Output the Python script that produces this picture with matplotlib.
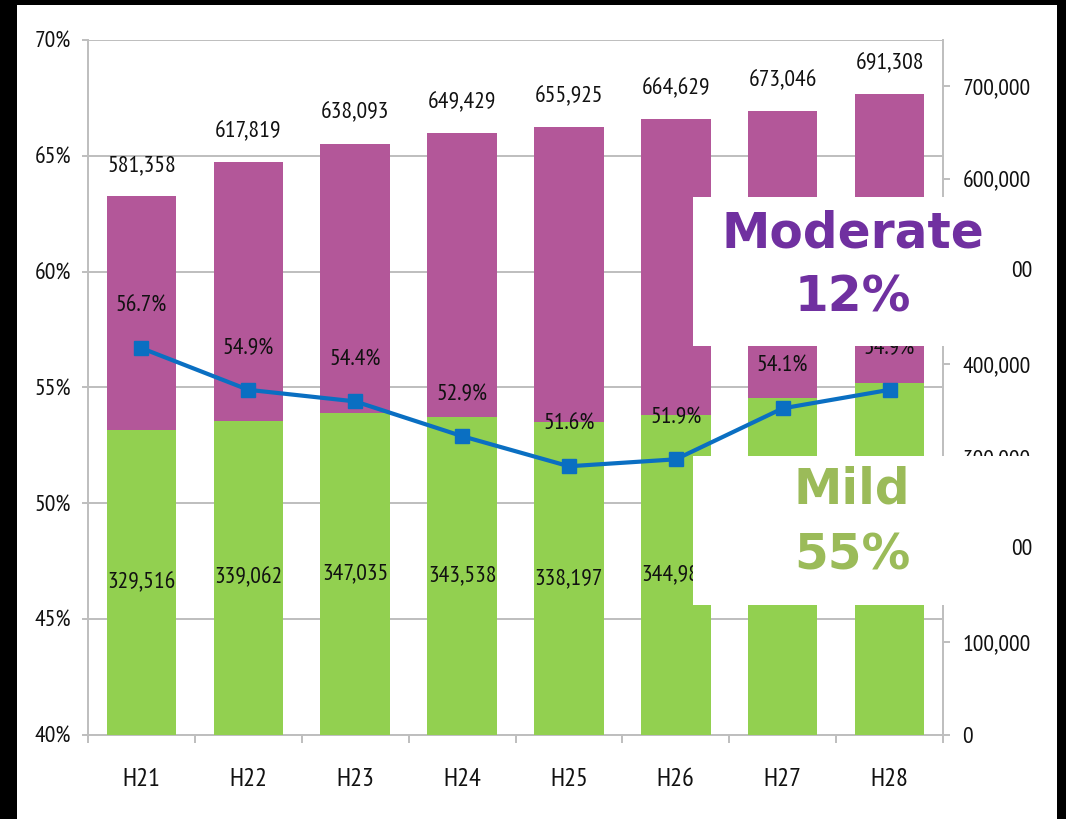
import matplotlib
matplotlib.use("Agg")
import matplotlib.pyplot as plt
from matplotlib.patches import Rectangle
from matplotlib.transforms import blended_transform_factory, ScaledTranslation
from matplotlib.ticker import FuncFormatter, FixedLocator

# ---- data ----
years = ["H21", "H22", "H23", "H24", "H25", "H26", "H27", "H28"]
total = [581358, 617819, 638093, 649429, 655925, 664629, 673046, 691308]
mild = [329516, 339062, 347035, 343538, 338197, 344983, 364118, 379528]
mild_pct = [56.7, 54.9, 54.4, 52.9, 51.6, 51.9, 54.1, 54.9]
mild_label_visible = [True, True, True, True, True, True, False, False]  # H27/H28 hidden by box
pct_ticks = [40, 45, 50, 55, 60, 65, 70]
cnt_ticks = [0, 100000, 200000, 300000, 400000, 500000, 600000, 700000]
covered_ticks = [200000, 500000]   # right-axis labels hidden behind the boxes

W, H = 1066, 819
DPI = 100
plt.rcParams['font.family'] = ['PT Sans Narrow', 'DejaVu Sans']
fig = plt.figure(figsize=(W / DPI, H / DPI), dpi=DPI, facecolor='white')

GRID = '#BEBEBE'
TXT = '#111111'
PURPLE = '#B35799'
GREEN = '#92D050'
BLUE = '#0A6FC2'
FS = 17

ax = fig.add_axes([88 / W, 1 - 735 / H, (943 - 88) / W, (735 - 40) / H])
ax.set_zorder(0)
ax.set_ylim(40, 70)
ax.set_xlim(-0.5, len(years) - 0.5)
ax.yaxis.set_major_locator(FixedLocator(pct_ticks))
ax.yaxis.set_major_formatter(FuncFormatter(lambda v, p: f"{v:.0f}%"))
ax.grid(axis='y', color=GRID, linewidth=1.4)
ax.set_axisbelow(True)
ax.set_xticks(range(len(years)))
ax.set_xticklabels(years)
ax.set_xticks([i - 0.5 for i in range(len(years) + 1)], minor=True)
ax.tick_params(axis='x', which='major', length=0, pad=24, labelsize=19, labelcolor=TXT)
ax.tick_params(axis='x', which='minor', length=6, width=1.4, color=GRID)
ax.tick_params(axis='y', length=4, width=1.4, color=GRID, pad=8, labelsize=FS, labelcolor=TXT)
for s in ['top', 'right']:
    ax.spines[s].set_visible(False)
for s in ['left', 'bottom']:
    ax.spines[s].set_color(GRID)
    ax.spines[s].set_linewidth(1.4)

ax2 = ax.twinx()
ax2.set_zorder(1)
ax2.patch.set_visible(False)
x = list(range(len(years)))
moderate_part = [t - m for t, m in zip(total, mild)]
ax2.bar(x, mild, width=0.65, color=GREEN, zorder=2)
ax2.bar(x, moderate_part, bottom=mild, width=0.65, color=PURPLE, zorder=2)
ax2.set_ylim(0, 750000)
ax2.yaxis.set_major_locator(FixedLocator(cnt_ticks))
ax2.yaxis.set_major_formatter(
    FuncFormatter(lambda v, p: "" if v in covered_ticks else f"{v:,.0f}"))
ax2.tick_params(axis='y', length=5, width=1.4, color=GRID, pad=9, labelsize=FS, labelcolor=TXT)
for s in ['top', 'left', 'bottom']:
    ax2.spines[s].set_visible(False)
ax2.spines['right'].set_color(GRID)
ax2.spines['right'].set_linewidth(1.4)
ax2.set_xlim(-0.5, len(years) - 0.5)

# total labels
for xi, t in zip(x, total):
    ax2.annotate(f"{t:,}", xy=(xi, t), xytext=(0, 22), textcoords='offset points',
                 ha='center', va='center', fontsize=FS, color=TXT, zorder=5)
# mild labels
for xi, m, vis in zip(x, mild, mild_label_visible):
    if vis:
        ax2.annotate(f"{m:,}", xy=(xi, m / 2), ha='center', va='center',
                     fontsize=FS, color=TXT, zorder=5)

# line on percent scale
tr = blended_transform_factory(ax2.transData, ax.transData)
ax2.plot(x, mild_pct, color=BLUE, linewidth=3, marker='s', markersize=10,
         transform=tr, zorder=6)
for xi, p in zip(x, mild_pct):
    ax2.annotate(f"{p:.1f}%", xy=(xi, p), xycoords=tr, xytext=(0, 30),
                 textcoords='offset points', ha='center', va='center',
                 fontsize=FS, color=TXT, zorder=7)
ax2.set_ylim(0, 750000)

# white overlay boxes
fig.patches.append(Rectangle((693 / W, 1 - 346 / H), (1057 - 693) / W, 149 / H,
                             transform=fig.transFigure, facecolor='white',
                             edgecolor='none', zorder=10))
fig.patches.append(Rectangle((693 / W, 1 - 605 / H), (1057 - 693) / W, 149 / H,
                             transform=fig.transFigure, facecolor='white',
                             edgecolor='none', zorder=10))

# visible fragments of the covered right tick labels
frag_tr = blended_transform_factory(ax2.transAxes, ax2.transData) + \
    ScaledTranslation((1032 - 943) / DPI, 0, fig.dpi_scale_trans)
for v in covered_ticks:
    fig.text(1, v, "00", transform=frag_tr, ha='right', va='center',
             fontsize=FS, color=TXT, zorder=11)

big = dict(family=['DejaVu Sans'], fontweight='bold', fontsize=35,
           ha='center', va='center', zorder=11)
fig.text(853 / W, 1 - 233 / H, "Moderate", color='#7030A0', **big)
fig.text(853 / W, 1 - 297 / H, "12%", color='#7030A0', **big)
fig.text(852 / W, 1 - 490 / H, "Mild", color='#9BBB59', **big)
fig.text(852 / W, 1 - 555 / H, "55%", color='#9BBB59', **big)

# black frame strips
for rx, ry, rw, rh in [(0, 0, 17, H), (0, 0, W, 5), (1057, 0, W - 1057, H)]:
    fig.patches.append(Rectangle((rx / W, 1 - (ry + rh) / H), rw / W, rh / H,
                                 transform=fig.transFigure, facecolor='black',
                                 edgecolor='none', zorder=20))

fig.savefig("out.png", dpi=DPI, facecolor='white')
